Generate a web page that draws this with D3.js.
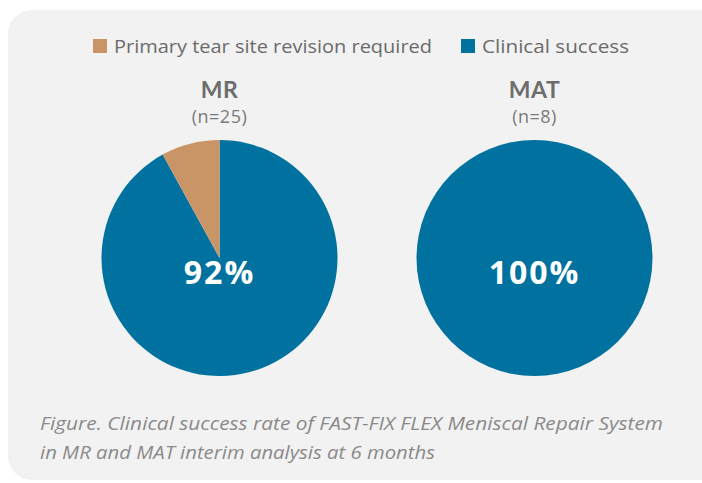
<!DOCTYPE html>
<html>
<head>
<meta charset="utf-8">
<script src="https://cdn.jsdelivr.net/npm/d3@7"></script>
<style>
  body { margin: 0; background: #fff; }
  svg { display: block; }
</style>
</head>
<body>
<div id="chart"></div>
<script>
// data
const groups = ["MR", "MAT"];
const sampleSizes = [25, 8];
const categories = ["Primary tear site revision required", "Clinical success"];
const revisionPct = [8, 0];
const successPct = [92, 100];
const captionLines = [
  "Figure. Clinical success rate of FAST-FIX FLEX Meniscal Repair System",
  "in MR and MAT interim analysis at 6 months"
];

const width = 702, height = 483;
const radius = 118;
const pieY = 258;

// widths the text takes up in the original (the brand font is wider than ours)
const legendX = [93, 461];
const legendTextW = [318, 147];
const captionW = [623, 395];

const svg = d3.select("#chart").append("svg")
    .attr("width", width)
    .attr("height", height);

// grey card behind everything
svg.append("rect")
    .attr("x", 8).attr("y", 10)
    .attr("width", 720).attr("height", 470)
    .attr("rx", 24)
    .attr("fill", "#f2f2f2");

const color = d3.scaleOrdinal()
    .domain(categories)
    .range(["#c99567", "#01729f"]);

const x = d3.scaleBand()
    .domain(groups)
    .range([62, 692]);

// legend
const legend = svg.append("g").selectAll("g")
    .data(categories)
    .join("g")
    .attr("transform", (d, i) => `translate(${legendX[i]},39)`);

legend.append("rect")
    .attr("width", 14).attr("height", 14)
    .attr("fill", d => color(d));

legend.append("text")
    .attr("x", 21).attr("y", 14)
    .attr("font-family", "Open Sans")
    .attr("font-size", 19)
    .attr("textLength", (d, i) => legendTextW[i])
    .attr("lengthAdjust", "spacingAndGlyphs")
    .attr("fill", "#6b6b6b")
    .text(d => d);

// one pie per group
const pie = d3.pie().sort(null).value(d => d.value);
const arc = d3.arc().innerRadius(0).outerRadius(radius);

const data = groups.map((g, i) => ({
  group: g,
  n: sampleSizes[i],
  slices: [
    {key: categories[1], value: successPct[i]},
    {key: categories[0], value: revisionPct[i]}
  ],
  pct: successPct[i]
}));

const g = svg.append("g").selectAll("g")
    .data(data)
    .join("g")
    .attr("transform", d => `translate(${x(d.group) + x.bandwidth() / 2},0)`);

g.append("text")
    .attr("y", 98)
    .attr("text-anchor", "middle")
    .attr("font-family", "Lato")
    .attr("font-weight", "bold")
    .attr("font-size", 23)
    .attr("letter-spacing", 0.5)
    .attr("fill", "#6d6d6d")
    .text(d => d.group);

g.append("text")
    .attr("y", 123)
    .attr("text-anchor", "middle")
    .attr("font-family", "Open Sans")
    .attr("font-size", 18)
    .attr("letter-spacing", 0.5)
    .attr("fill", "#7a7a7a")
    .text(d => `(n=${d.n})`);

const pies = g.append("g")
    .attr("transform", `translate(0,${pieY})`);

pies.selectAll("path")
    .data(d => pie(d.slices).filter(s => s.value > 0))
    .join("path")
    .attr("d", arc)
    .attr("fill", d => color(d.data.key));

pies.append("text")
    .attr("y", 26)
    .attr("text-anchor", "middle")
    .attr("font-family", "Open Sans")
    .attr("font-weight", "bold")
    .attr("font-size", 32)
    .attr("letter-spacing", 2)
    .attr("fill", "#fff")
    .text(d => d.pct + "%");

// caption
svg.append("g").selectAll("text")
    .data(captionLines)
    .join("text")
    .attr("x", 40)
    .attr("y", (d, i) => 430 + i * 29)
    .attr("font-family", "Open Sans")
    .attr("font-style", "italic")
    .attr("font-size", 19)
    .attr("textLength", (d, i) => captionW[i])
    .attr("lengthAdjust", "spacingAndGlyphs")
    .attr("fill", "#8a8a8a")
    .text(d => d);
</script>
</body>
</html>
